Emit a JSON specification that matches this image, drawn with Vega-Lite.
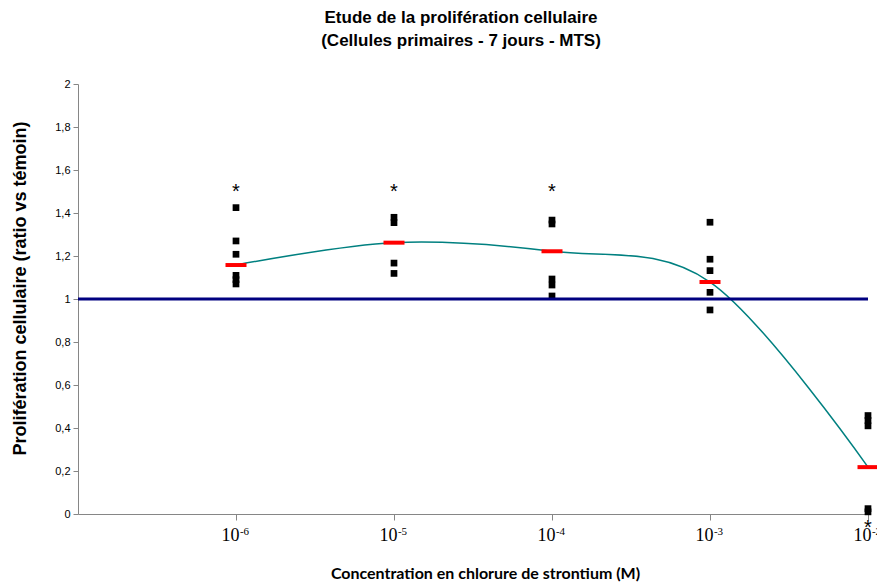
{
  "$schema": "https://vega.github.io/schema/vega-lite/v6.json",
  "width": 790,
  "height": 430,
  "autosize": "none",
  "padding": {"left": 78, "top": 84, "right": 9, "bottom": 72},
  "background": "white",
  "config": {"view": {"stroke": null}},
  "title": {
    "text": ["Etude de la prolifération cellulaire", "(Cellules primaires - 7 jours - MTS)"],
    "font": "Liberation Sans",
    "fontSize": 17,
    "fontWeight": "bold",
    "color": "black",
    "anchor": "middle",
    "dx": -12,
    "offset": 28,
    "lineHeight": 23
  },
  "resolve": {"scale": {"x": "independent"}},
  "datasets": {
    "points": [
      {"conc": 1e-6, "ratio": 1.425}, {"conc": 1e-6, "ratio": 1.27}, {"conc": 1e-6, "ratio": 1.208},
      {"conc": 1e-6, "ratio": 1.11}, {"conc": 1e-6, "ratio": 1.09}, {"conc": 1e-6, "ratio": 1.07},
      {"conc": 1e-5, "ratio": 1.38}, {"conc": 1e-5, "ratio": 1.355}, {"conc": 1e-5, "ratio": 1.167}, {"conc": 1e-5, "ratio": 1.119},
      {"conc": 1e-4, "ratio": 1.367}, {"conc": 1e-4, "ratio": 1.349}, {"conc": 1e-4, "ratio": 1.093}, {"conc": 1e-4, "ratio": 1.065}, {"conc": 1e-4, "ratio": 1.014},
      {"conc": 1e-3, "ratio": 1.357}, {"conc": 1e-3, "ratio": 1.185}, {"conc": 1e-3, "ratio": 1.132}, {"conc": 1e-3, "ratio": 1.031}, {"conc": 1e-3, "ratio": 0.949},
      {"conc": 1e-2, "ratio": 0.458}, {"conc": 1e-2, "ratio": 0.435}, {"conc": 1e-2, "ratio": 0.41}, {"conc": 1e-2, "ratio": 0.025}, {"conc": 1e-2, "ratio": 0.01}
    ],
    "means": [
      {"conc": 1e-6, "ratio": 1.158},
      {"conc": 1e-5, "ratio": 1.262},
      {"conc": 1e-4, "ratio": 1.222},
      {"conc": 1e-3, "ratio": 1.079},
      {"conc": 1e-2, "ratio": 0.218}
    ],
    "stars": [
      {"conc": 1e-6, "ratio": 1.484, "label": "*"},
      {"conc": 1e-5, "ratio": 1.484, "label": "*"},
      {"conc": 1e-4, "ratio": 1.484, "label": "*"},
      {"conc": 1e-2, "ratio": -0.079, "label": "*"}
    ],
    "control": [{"ratio": 1}]
  },
  "layer": [
    {
      "data": {"name": "points"},
      "mark": {"type": "point", "shape": "square", "filled": true, "size": 45, "color": "black", "opacity": 1},
      "encoding": {
        "x": {
          "field": "conc", "type": "quantitative",
          "scale": {"type": "log", "domain": [1e-7, 1e-2], "nice": false},
          "axis": {
            "orient": "bottom",
            "values": [1e-6, 1e-5, 1e-4, 1e-3, 1e-2],
            "grid": false,
            "domainColor": "#868686",
            "tickColor": "#868686",
            "tickSize": 6,
            "labelFont": "Liberation Serif",
            "labelFontSize": 18,
            "labelColor": "black",
            "labelBaseline": "alphabetic",
            "labelPadding": 20,
            "labelOffset": -6,
            "labelFlush": false,
            "labelOverlap": false,
            "labelExpr": "'10'",
            "title": "Concentration en chlorure de strontium (M)",
            "titleFont": "Lato",
            "titleFontSize": 16,
            "titleFontWeight": "bold",
            "titleColor": "black",
            "titleX": 407,
            "titleY": 64,
            "titleBaseline": "alphabetic"
          }
        },
        "y": {
          "field": "ratio", "type": "quantitative",
          "scale": {"domain": [0, 2], "nice": false},
          "axis": {
            "values": [0, 0.2, 0.4, 0.6, 0.8, 1, 1.2, 1.4, 1.6, 1.8, 2],
            "grid": false,
            "domainColor": "#868686",
            "tickColor": "#868686",
            "tickSize": 5,
            "labelFont": "Liberation Sans",
            "labelFontSize": 11,
            "labelColor": "black",
            "labelPadding": 3,
            "labelExpr": "replace(format(datum.value, '.1~f'), '.', ',')",
            "title": "Prolifération cellulaire (ratio vs témoin)",
            "titleFont": "Liberation Sans",
            "titleFontSize": 18,
            "titleFontWeight": "bold",
            "titleColor": "black",
            "titleX": -58,
            "titleY": 204,
            "titleAngle": -90,
            "titleBaseline": "middle",
            "titleAlign": "center"
          }
        }
      }
    },
    {
      "data": {"name": "means"},
      "mark": {"type": "line", "interpolate": "cardinal", "color": "#008080", "strokeWidth": 1.5},
      "encoding": {
        "x": {
          "field": "conc", "type": "quantitative",
          "scale": {"type": "log", "domain": [1e-7, 1e-2], "nice": false},
          "axis": {
            "orient": "top",
            "offset": -450,
            "values": [1e-6, 1e-5, 1e-4, 1e-3, 1e-2],
            "grid": false,
            "domain": false,
            "ticks": false,
            "tickSize": 0,
            "labelFont": "Liberation Serif",
            "labelFontSize": 11,
            "labelColor": "black",
            "labelBaseline": "alphabetic",
            "labelPadding": 0,
            "labelOffset": 8,
            "labelFlush": false,
            "labelOverlap": false,
            "labelExpr": "'-' + abs(round(log(datum.value)/LN10))",
            "title": null
          }
        },
        "y": {"field": "ratio", "type": "quantitative"}
      }
    },
    {
      "data": {"name": "means"},
      "mark": {"type": "tick", "orient": "horizontal", "color": "red", "size": 21, "thickness": 4, "opacity": 1},
      "encoding": {
        "x": {"field": "conc", "type": "quantitative", "scale": {"type": "log", "domain": [1e-7, 1e-2], "nice": false}, "axis": null},
        "y": {"field": "ratio", "type": "quantitative"}
      }
    },
    {
      "data": {"name": "control"},
      "mark": {"type": "rule", "color": "#000080", "strokeWidth": 3},
      "encoding": {
        "y": {"field": "ratio", "type": "quantitative"}
      }
    },
    {
      "data": {"name": "stars"},
      "mark": {"type": "text", "font": "Liberation Sans", "fontSize": 20, "color": "black", "baseline": "alphabetic", "align": "center", "dy": 3},
      "encoding": {
        "x": {"field": "conc", "type": "quantitative", "scale": {"type": "log", "domain": [1e-7, 1e-2], "nice": false}, "axis": null},
        "y": {"field": "ratio", "type": "quantitative"},
        "text": {"field": "label"}
      }
    }
  ]
}
